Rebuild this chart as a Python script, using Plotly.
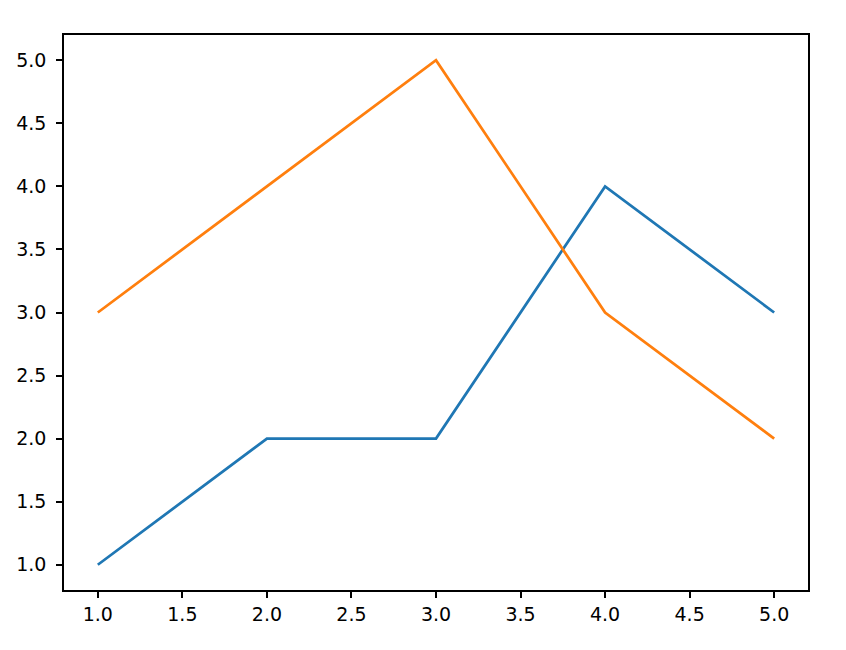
import plotly.graph_objects as go

x_vals = [1, 2, 3, 4, 5]
series_a = [1, 2, 2, 4, 3]
series_b = [3, 4, 5, 3, 2]

fig = go.Figure()
fig.add_trace(go.Scatter(x=x_vals, y=series_a, mode="lines",
                         line=dict(color="#1f77b4", width=2.75)))
fig.add_trace(go.Scatter(x=x_vals, y=series_b, mode="lines",
                         line=dict(color="#ff7f0e", width=2.75)))

axis_common = dict(
    showline=True, mirror=True, linecolor="black", linewidth=1.5,
    ticks="outside", ticklen=6, tickwidth=1.5, tickcolor="black",
    showgrid=False, zeroline=False, tickformat=".1f", dtick=0.5,
    automargin=False,
    tickfont=dict(family="DejaVu Sans", size=19, color="black"),
)

fig.update_layout(
    width=846, height=650,
    margin=dict(l=56, r=46, t=27, b=68),
    paper_bgcolor="white", plot_bgcolor="white",
    showlegend=False,
    xaxis=dict(range=[0.8, 5.2], tick0=1.0, **axis_common),
    yaxis=dict(range=[0.8, 5.2], tick0=1.0, ticklabelstandoff=6, **axis_common),
)

fig.write_html("out.html")
